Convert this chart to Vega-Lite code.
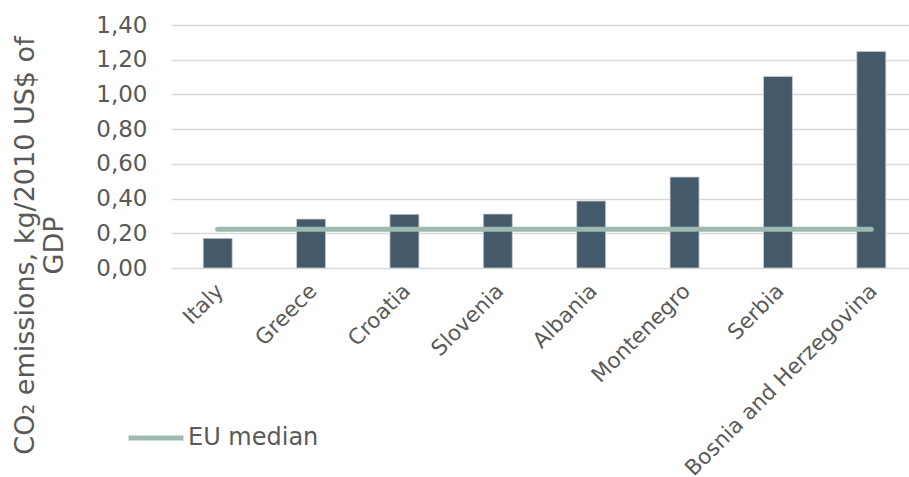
{
  "$schema": "https://vega.github.io/schema/vega-lite/v6.json",
  "autosize": {"type": "none"},
  "padding": {"left": 171, "top": 25, "right": 0, "bottom": 209},
  "width": 738,
  "height": 243,
  "background": "white",
  "config": {
    "font": "DejaVu Sans",
    "view": {"stroke": null}
  },
  "data": {
    "values": [
      {"country": "Italy", "value": 0.171, "eu": 0.223},
      {"country": "Greece", "value": 0.282, "eu": 0.223},
      {"country": "Croatia", "value": 0.309, "eu": 0.223},
      {"country": "Slovenia", "value": 0.311, "eu": 0.223},
      {"country": "Albania", "value": 0.386, "eu": 0.223},
      {"country": "Montenegro", "value": 0.524, "eu": 0.223},
      {"country": "Serbia", "value": 1.104, "eu": 0.223},
      {"country": "Bosnia and Herzegovina", "value": 1.248, "eu": 0.223}
    ]
  },
  "encoding": {
    "x": {
      "field": "country",
      "type": "nominal",
      "sort": null,
      "scale": {"range": [0, 747], "paddingInner": 0.68, "paddingOuter": 0.34},
      "axis": {
        "title": null,
        "labelAngle": -45,
        "labelFontSize": 21.5,
        "labelColor": "#595959",
        "ticks": false,
        "domain": false,
        "labelPadding": 12,
        "labelOffset": -5,
        "labelLimit": 400,
        "labelOverlap": false
      }
    }
  },
  "layer": [
    {
      "mark": {"type": "bar", "color": "#44596a", "stroke": "#c8ced3", "strokeWidth": 0.8, "width": 29},
      "encoding": {
        "y": {
          "field": "value",
          "type": "quantitative",
          "scale": {"domain": [0, 1.4], "nice": false},
          "axis": {
            "values": [0, 0.2, 0.4, 0.6, 0.8, 1.0, 1.2, 1.4],
            "format": ".2f",
            "labelExpr": "replace(datum.label, '.', ',')",
            "labelOverlap": false,
            "labelFlush": false,
            "title": ["CO₂ emissions, kg/2010 US$ of", "GDP"],
            "titleFontSize": 27,
            "titleFontWeight": "normal",
            "titleColor": "#595959",
            "titleAngle": -90,
            "titleAlign": "center",
            "titleBaseline": "alphabetic",
            "titleX": -138,
            "titleY": 220,
            "titleLineHeight": 29,
            "labelFontSize": 23,
            "labelColor": "#595959",
            "labelPadding": 24,
            "ticks": false,
            "domain": false,
            "grid": true,
            "gridColor": "#d9d9d9",
            "gridWidth": 1.5,
            "zindex": 0
          }
        }
      }
    },
    {
      "mark": {"type": "line", "strokeWidth": 5, "strokeCap": "round"},
      "encoding": {
        "y": {
          "field": "eu",
          "type": "quantitative",
          "axis": {
            "values": [0, 0.2, 0.4, 0.6, 0.8, 1.0, 1.2, 1.4],
            "format": ".2f",
            "labelExpr": "replace(datum.label, '.', ',')",
            "labelOverlap": false,
            "labelFlush": false,
            "title": ["CO₂ emissions, kg/2010 US$ of", "GDP"],
            "titleFontSize": 27,
            "titleFontWeight": "normal",
            "titleColor": "#595959",
            "titleAngle": -90,
            "titleAlign": "center",
            "titleBaseline": "alphabetic",
            "titleX": -138,
            "titleY": 220,
            "titleLineHeight": 29,
            "labelFontSize": 23,
            "labelColor": "#595959",
            "labelPadding": 24,
            "ticks": false,
            "domain": false,
            "grid": true,
            "gridColor": "#d9d9d9",
            "gridWidth": 1.5,
            "zindex": 0
          }
        },
        "color": {
          "datum": "EU median",
          "type": "nominal",
          "scale": {"range": ["#9dbab0"]},
          "legend": {
            "title": null,
            "orient": "none",
            "legendX": -45,
            "legendY": 383,
            "symbolType": "stroke",
            "symbolStrokeWidth": 5,
            "symbolSize": 3000,
            "labelFontSize": 24,
            "labelColor": "#595959",
            "labelOffset": 2
          }
        }
      }
    }
  ]
}
